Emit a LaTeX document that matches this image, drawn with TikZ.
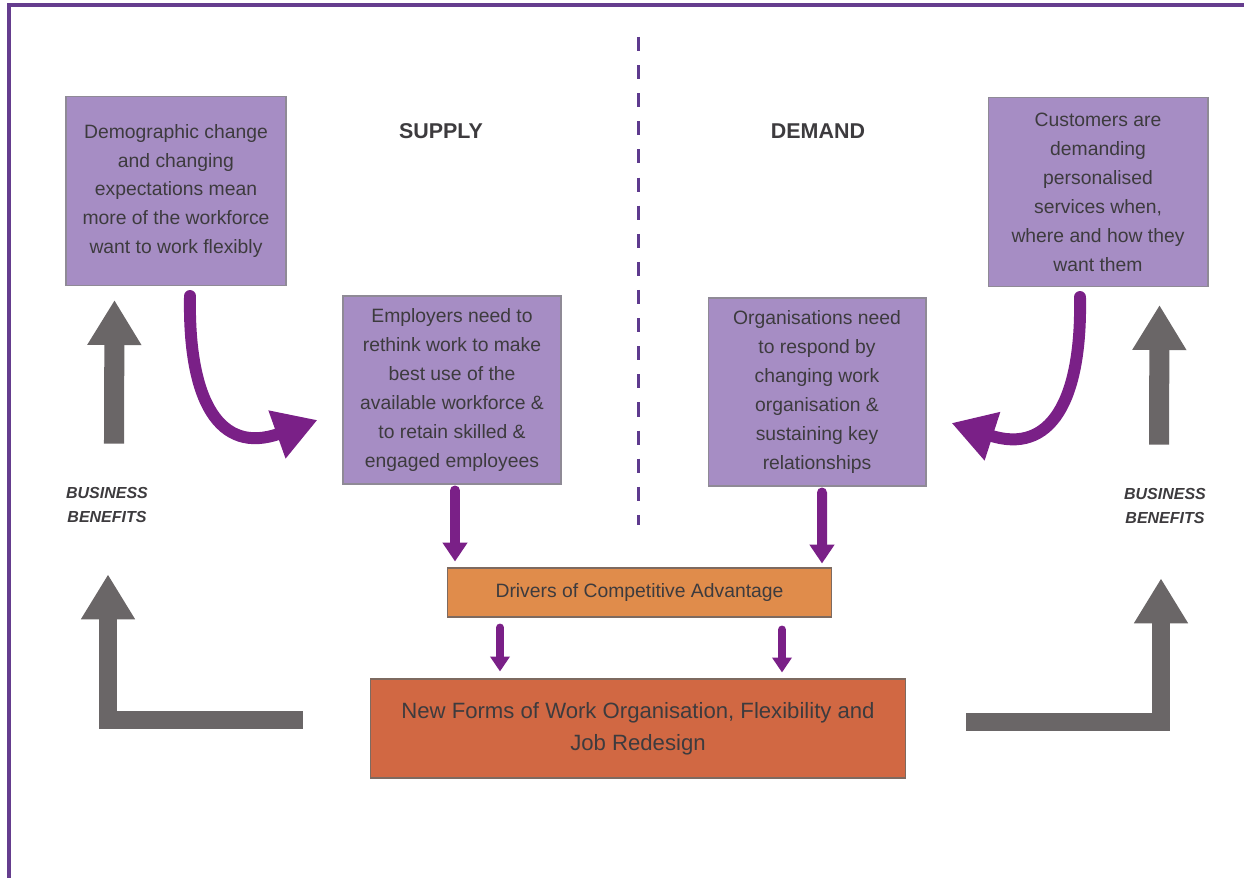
\documentclass[tikz,border=0pt]{standalone}
\usepackage{fontspec}
\setmainfont{Liberation Sans}
\usetikzlibrary{arrows.meta, calc}
\definecolor{frameLine}{HTML}{653D8E}
\definecolor{dashPurple}{HTML}{5E3A8E}
\definecolor{boxFill}{HTML}{A68DC4}
\definecolor{boxBorder}{HTML}{8F8A96}
\definecolor{flowPurple}{HTML}{7A2087}
\definecolor{benefitGrey}{HTML}{6A6667}
\definecolor{driverFill}{HTML}{E08C4B}
\definecolor{formsFill}{HTML}{D16843}
\definecolor{edgeBrown}{HTML}{7D6A60}
\definecolor{textGrey}{HTML}{3D3B3E}

\begin{document}
\begin{tikzpicture}[
    x=0.02cm, y=-0.02cm,
    trendbox/.style={
        draw=boxBorder, fill=boxFill, line width=0.6pt,
        minimum width=4.4cm, minimum height=3.78cm,
        align=center, inner sep=0pt, text=textGrey,
        font=\fontsize{11}{16.5}\selectfont
    },
    driverbox/.style={
        draw=edgeBrown, fill=driverFill, line width=0.6pt,
        minimum width=7.7cm, minimum height=0.98cm,
        inner sep=0pt, text=textGrey,
        font=\fontsize{11}{16.5}\selectfont
    },
    formsbox/.style={
        draw=edgeBrown, fill=formsFill, line width=0.6pt,
        minimum width=10.72cm, minimum height=1.98cm,
        align=center, inner sep=0pt, text=textGrey,
        font=\fontsize{12.6}{18.2}\selectfont
    },
    sidelabel/.style={font=\fontsize{12.2}{14}\selectfont\bfseries, text=textGrey},
    benefitlabel/.style={
        align=center, text=textGrey,
        font=\fontsize{9.1}{14.2}\selectfont\bfseries\itshape
    },
    curvearrow/.style={
        -{Triangle[length=24.5pt,width=27.3pt]},
        flowPurple, line width=6.8pt, line cap=round
    },
    downarrow/.style={
        -{Triangle[length=10.8pt,width=13.7pt]},
        flowPurple, line width=5.7pt, line cap=round
    },
    smallarrow/.style={
        -{Triangle[length=8.5pt,width=10.8pt]},
        flowPurple, line width=4.5pt, line cap=round
    },
    benefitarrow/.style={
        -{Triangle[length=25.6pt,width=29pt]},
        benefitGrey, line width=11.4pt
    },
    returnarrow/.style={
        -{Triangle[length=25.6pt,width=29pt]},
        benefitGrey, line width=10.2pt, line join=miter
    },
]
\useasboundingbox (0,0) rectangle (1244,878);

% frame and divider
\draw[frameLine, line width=2.3pt] (1244,5) -- (9,5) -- (9,878);
\draw[dashPurple, line width=1.7pt, dash pattern=on 8pt off 8pt]
    (638,37) -- (638,525);

% supply side
\node[trendbox] (demog) at (176,191)
    {Demographic change\\and changing\\expectations mean\\more of the workforce\\want to work flexibly};
\node[sidelabel] (supply) at (441,131) {SUPPLY};
\node[trendbox, minimum width=4.36cm, minimum height=3.76cm] (employers) at (452,390)
    {Employers need to\\rethink work to make\\best use of the\\available workforce \&\\to retain skilled \&\\engaged employees};

% demand side
\node[sidelabel] (demand) at (818,131) {DEMAND};
\node[trendbox] (customers) at (1098,192)
    {Customers are\\demanding\\personalised\\services when,\\where and how they\\want them};
\node[trendbox, minimum width=4.36cm, minimum height=3.76cm] (orgs) at (817,392)
    {Organisations need\\to respond by\\changing work\\organisation \&\\sustaining key\\relationships};

% centre
\node[driverbox] (drivers) at (639.5,592.5) {Drivers of Competitive Advantage};
\node[formsbox] (forms) at (638,728.5)
    {New Forms of Work Organisation, Flexibility and\\Job Redesign};

% business benefits
\node[benefitlabel] (benefitL) at (107,505) {BUSINESS\\BENEFITS};
\node[benefitlabel] (benefitR) at (1165,506) {BUSINESS\\BENEFITS};

% purple flows
\draw[curvearrow] ($(demog.south)+(14,10)$)
    .. controls ($(demog.south)+(12,115)$) and ($(employers.west)+(-123,65)$)
    .. ($(employers.west)+(-25,30)$);
\draw[curvearrow] ($(customers.south)+(-18,10)$)
    .. controls ($(customers.south)+(-16,114)$) and ($(orgs.east)+(124,63)$)
    .. ($(orgs.east)+(25,31)$);

\draw[downarrow] ($(employers.south)+(3,6)$) -- ($(drivers.north)+(-184.5,-6)$);
\draw[downarrow] ($(orgs.south)+(5,6)$) -- ($(drivers.north)+(182.5,-4)$);

\draw[smallarrow] ($(drivers.south)+(-139.5,10)$) -- ($(forms.north)+(-138,-7)$);
\draw[smallarrow] ($(drivers.south)+(142.5,12)$) -- ($(forms.north)+(144,-6)$);

% grey benefit arrows
\draw[benefitarrow] ($(benefitL.north)+(7,-37)$) -- ($(demog.south west)+(49,14)$);
\draw[benefitarrow] ($(benefitR.north)+(-6,-37)$) -- ($(customers.south east)+(-49,18)$);

\draw[returnarrow] ($(forms.west)+(-67,-8.5)$) -| ($(benefitL.south)+(1,45)$);
\draw[returnarrow] ($(forms.east)+(60,-6.5)$) -| ($(benefitR.south)+(-4,48)$);

\end{tikzpicture}
\end{document}
